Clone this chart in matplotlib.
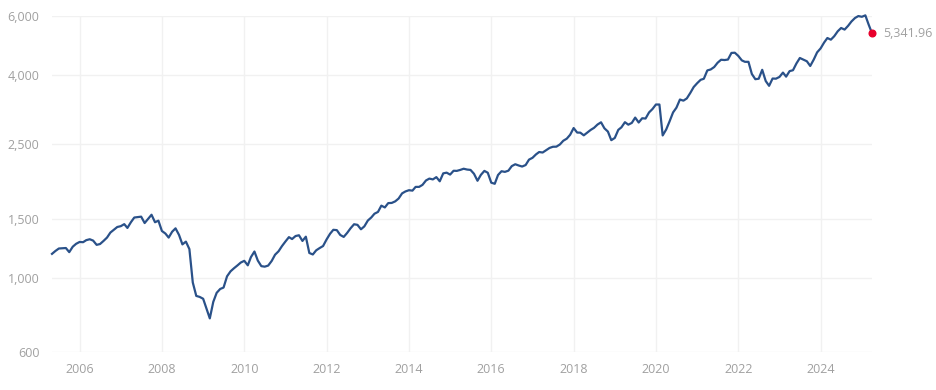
import numpy as np
import pandas as pd
import matplotlib
matplotlib.use('Agg')
import matplotlib.pyplot as plt
import matplotlib.dates as mdates
from matplotlib.ticker import FixedLocator, NullLocator

# monthly average index level, May 2005 - Apr 2025
values = [
    1178, 1202, 1222, 1224, 1226, 1192, 1237, 1262,
    1278, 1276, 1294, 1302, 1290, 1253, 1260, 1287, 1317, 1363, 1389, 1416,
    1424, 1444, 1407, 1463, 1511, 1515, 1520, 1455, 1497, 1540, 1463, 1479,
    1378, 1354, 1317, 1371, 1403, 1341, 1257, 1281, 1217, 968, 883, 877,
    866, 806, 757, 848, 902, 926, 935, 1010, 1045, 1067, 1088, 1110,
    1123, 1089, 1152, 1197, 1125, 1083, 1079, 1087, 1122, 1171, 1199, 1242,
    1282, 1321, 1304, 1331, 1338, 1287, 1325, 1185, 1173, 1207, 1226, 1243,
    1300, 1352, 1389, 1386, 1341, 1323, 1359, 1404, 1443, 1437, 1394, 1422,
    1480, 1512, 1551, 1570, 1639, 1619, 1668, 1670, 1688, 1721, 1783, 1807,
    1822, 1817, 1864, 1864, 1890, 1948, 1973, 1962, 1993, 1937, 2045, 2055,
    2028, 2082, 2080, 2094, 2111, 2099, 2094, 2039, 1944, 2024, 2080, 2054,
    1919, 1904, 2022, 2075, 2066, 2083, 2149, 2177, 2158, 2143, 2165, 2247,
    2275, 2329, 2367, 2359, 2395, 2434, 2454, 2456, 2493, 2557, 2594, 2664,
    2790, 2705, 2703, 2654, 2702, 2754, 2794, 2858, 2902, 2785, 2723, 2567,
    2607, 2755, 2804, 2904, 2855, 2890, 2997, 2898, 2983, 2978, 3105, 3177,
    3278, 3278, 2652, 2762, 2920, 3105, 3208, 3392, 3366, 3418, 3549, 3695,
    3794, 3883, 3910, 4141, 4168, 4238, 4364, 4455, 4446, 4461, 4668, 4675,
    4573, 4436, 4392, 4392, 4041, 3899, 3912, 4158, 3851, 3726, 3917, 3913,
    3960, 4080, 3968, 4121, 4146, 4346, 4509, 4458, 4409, 4269, 4460, 4686,
    4815, 5012, 5170, 5112, 5235, 5415, 5538, 5478, 5621, 5792, 5930, 6010,
    5980, 6039, 5684, 5341.96,
]
dates = pd.date_range('2005-05-01', periods=len(values), freq='MS')

y_ticks = [600, 1000, 1500, 2500, 4000, 6000]
x_tick_years = list(range(2006, 2025, 2))

line_color = '#2a5189'
grid_color = '#f1f1f1'
text_color = '#a0a0a0'

plt.rcParams['font.family'] = ['Open Sans', 'DejaVu Sans']

fig = plt.figure(figsize=(9.36, 3.9), dpi=100)
ax = fig.add_axes([52 / 936, 37.7 / 390, 820 / 936, 336 / 390])

ax.plot(dates, values, color=line_color, linewidth=1.6, clip_on=False,
        solid_joinstyle='round', zorder=3)
ax.plot(dates[-1], values[-1], 'o', color='#e8002b', markersize=4.8,
        clip_on=False, zorder=4)
ax.annotate('{:,.2f}'.format(values[-1]), xy=(dates[-1], values[-1]),
            xytext=(8, 0), textcoords='offset points', va='center', ha='left',
            fontsize=9, color=text_color, annotation_clip=False)

ax.set_yscale('log')
ax.set_ylim(600, 6000)
ax.set_xlim(dates[0], dates[-1])
ax.yaxis.set_major_locator(FixedLocator(y_ticks))
ax.yaxis.set_minor_locator(NullLocator())
ax.set_yticklabels(['{:,}'.format(v) for v in y_ticks])
ax.xaxis.set_major_locator(FixedLocator(
    [mdates.date2num(pd.Timestamp(f'{y}-01-01')) for y in x_tick_years]))
ax.set_xticklabels([str(y) for y in x_tick_years])

ax.grid(True, color=grid_color, linewidth=1)
ax.set_axisbelow(True)
for s in ax.spines.values():
    s.set_visible(False)
ax.tick_params(length=0, labelsize=9, colors=text_color)
ax.tick_params(axis='y', pad=9)
ax.tick_params(axis='x', pad=8)

fig.savefig('out.png', dpi=100)
